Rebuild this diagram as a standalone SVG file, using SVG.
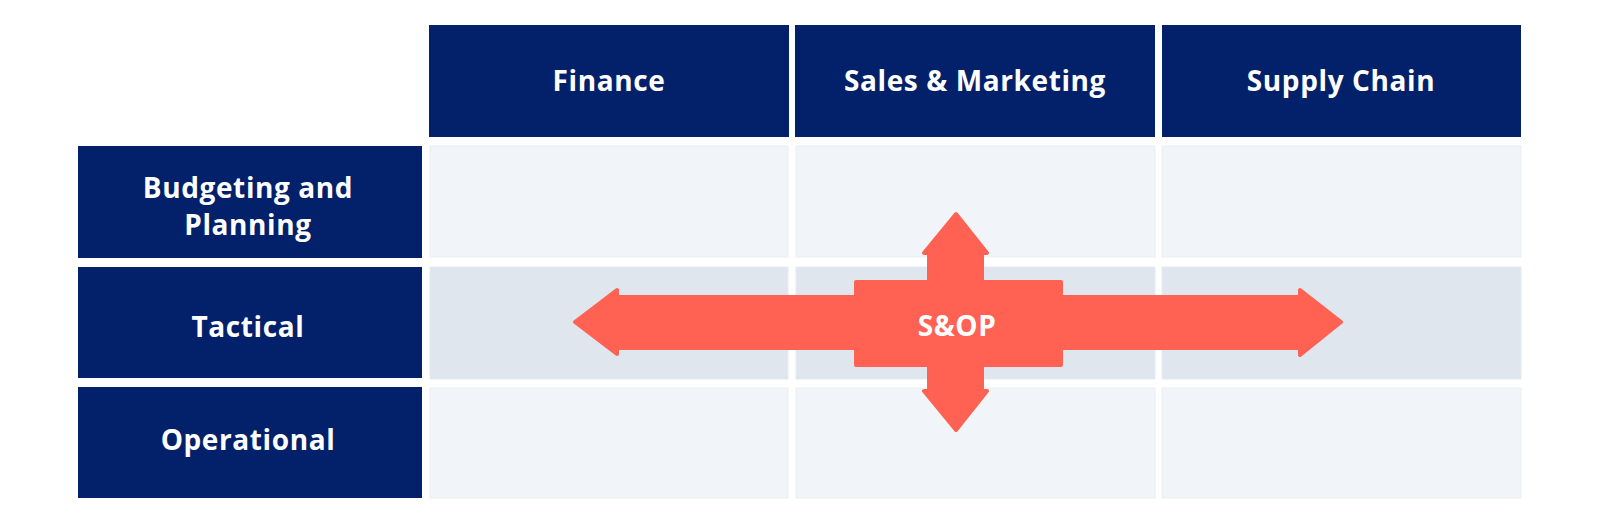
<svg xmlns="http://www.w3.org/2000/svg" width="1600" height="526" viewBox="0 0 1600 526">
  <style>
    .hdr { fill: #02216A; }
    .cell { fill: #F1F5F9; stroke: #E9EEF4; stroke-width: 1; }
    .cell2 { fill: #DFE6EE; stroke: #E4EAF1; stroke-width: 1; }
    .lbl { font-family: "Open Sans", "Liberation Sans", sans-serif; font-weight: 700; font-size: 28px; fill: #FFFFFF; text-anchor: middle; letter-spacing: 0.6px; }
    .arrow { fill: #FF6252; stroke: #FF6252; stroke-width: 4; stroke-linejoin: round; }
  </style>
  <rect width="1600" height="526" fill="#FFFFFF"/>

  <g id="col-finance">
    <rect class="hdr" x="429" y="25" width="360" height="112"/>
    <text class="lbl" x="609" y="91">Finance</text>
  </g>
  <g id="col-sales">
    <rect class="hdr" x="795" y="25" width="360" height="112"/>
    <text class="lbl" x="975" y="91">Sales &amp; Marketing</text>
  </g>
  <g id="col-supply">
    <rect class="hdr" x="1162" y="25" width="359" height="112"/>
    <text class="lbl" x="1341" y="91">Supply Chain</text>
  </g>

  <g id="row-budgeting">
    <rect class="hdr" x="78" y="146" width="344" height="112"/>
    <text class="lbl" x="248" y="198">Budgeting and</text>
    <text class="lbl" x="248" y="235">Planning</text>
  </g>
  <g id="row-tactical">
    <rect class="hdr" x="78" y="267" width="344" height="111"/>
    <text class="lbl" x="248" y="337">Tactical</text>
  </g>
  <g id="row-operational">
    <rect class="hdr" x="78" y="387" width="344" height="111"/>
    <text class="lbl" x="248" y="450">Operational</text>
  </g>

  <g id="grid">
    <rect class="cell" x="430" y="146" width="358" height="111"/>
    <rect class="cell" x="796" y="146" width="359" height="111"/>
    <rect class="cell" x="1162" y="146" width="359" height="111"/>
    <rect class="cell2" x="430" y="267" width="358" height="112"/>
    <rect class="cell2" x="796" y="267" width="359" height="112"/>
    <rect class="cell2" x="1162" y="267" width="359" height="112"/>
    <rect class="cell" x="430" y="388" width="358" height="110"/>
    <rect class="cell" x="796" y="388" width="359" height="110"/>
    <rect class="cell" x="1162" y="388" width="359" height="110"/>
  </g>

  <g id="connectors">
    <path class="arrow" d="M575,322 L617,290 L617,297 L856,297 L856,282 L929,282 L929,253 L924,253 L956,214 L987,253 L982,253 L982,282 L1061,282 L1061,297 L1300,297 L1300,290 L1341,322 L1300,355 L1300,348 L1061,348 L1061,365 L982,365 L982,391 L987,391 L956,430 L924,391 L929,391 L929,365 L856,365 L856,348 L617,348 L617,354 Z"/>
  </g>
  <g id="sop">
    <text class="lbl" x="957" y="336">S&amp;OP</text>
  </g>
</svg>
